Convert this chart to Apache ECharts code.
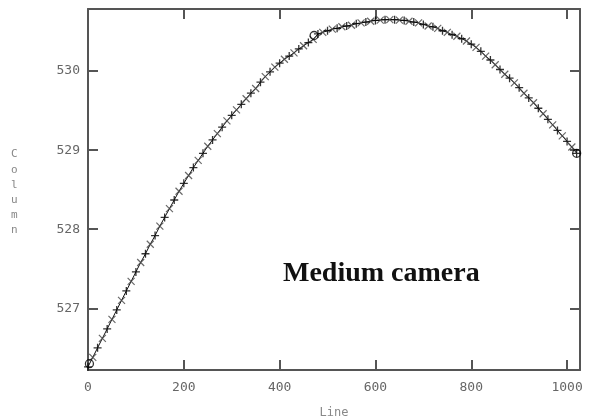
<!DOCTYPE html>
<html>
<head>
<meta charset="utf-8">
<script src="https://cdn.jsdelivr.net/npm/echarts@6/dist/echarts.min.js"></script>
<style>
  html, body { margin: 0; padding: 0; background: #fff; }
  #chart { width: 590px; height: 418px; }
</style>
</head>
<body>
<div id="chart"></div>
<script>
// Detector line positions (x) and measured column centroid (y)
const lineNumbers = [
  0, 10, 20, 30, 40, 50, 60, 70, 80, 90,
  100, 110, 120, 130, 140, 150, 160, 170, 180, 190,
  200, 210, 220, 230, 240, 250, 260, 270, 280, 290,
  300, 310, 320, 330, 340, 350, 360, 370, 380, 390,
  400, 410, 420, 430, 440, 450, 460, 470, 480, 490,
  500, 510, 520, 530, 540, 550, 560, 570, 580, 590,
  600, 610, 620, 630, 640, 650, 660, 670, 680, 690,
  700, 710, 720, 730, 740, 750, 760, 770, 780, 790,
  800, 810, 820, 830, 840, 850, 860, 870, 880, 890,
  900, 910, 920, 930, 940, 950, 960, 970, 980, 990,
  1000, 1010, 1020
];
const columnValues = [
  526.26, 526.38, 526.50, 526.62, 526.74, 526.86, 526.98, 527.10, 527.22, 527.34,
  527.46, 527.58, 527.69, 527.81, 527.92, 528.04, 528.15, 528.26, 528.37, 528.48,
  528.58, 528.68, 528.78, 528.87, 528.96, 529.05, 529.13, 529.21, 529.29, 529.37,
  529.44, 529.51, 529.58, 529.65, 529.72, 529.78, 529.86, 529.93, 529.99, 530.05,
  530.10, 530.15, 530.19, 530.23, 530.28, 530.32, 530.36, 530.40, 530.47, 530.49,
  530.51, 530.53, 530.54, 530.56, 530.57, 530.58, 530.60, 530.61, 530.62, 530.63,
  530.64, 530.645, 530.65, 530.65, 530.65, 530.645, 530.64, 530.63, 530.62, 530.61,
  530.59, 530.57, 530.56, 530.54, 530.51, 530.49, 530.46, 530.44, 530.41, 530.38,
  530.34, 530.30, 530.25, 530.19, 530.14, 530.08, 530.02, 529.96, 529.91, 529.85,
  529.79, 529.72, 529.66, 529.60, 529.53, 529.46, 529.39, 529.32, 529.25, 529.18,
  529.11, 529.04, 528.96
];
// Segment boundary points (drawn as open circles)
const boundaryLines = [3, 472, 1020];
const boundaryValues = [526.30, 530.45, 528.96];

const xTicks = [0, 200, 400, 600, 800, 1000];
const yTicks = [527, 528, 529, 530];
const labelText = 'Medium camera';
const yTitle = 'Column';

const frameColor = '#555';
const tickFont = { fontFamily: 'DejaVu Sans Mono', fontSize: 13, color: '#666' };

const allPoints = lineNumbers.map((x, i) => [x, columnValues[i]]);
const plusPoints = allPoints.filter((_, i) => i % 2 === 0);
const crossPoints = allPoints.filter((_, i) => i % 2 === 1);
const circlePoints = boundaryLines.map((x, i) => [x, boundaryValues[i]]);

const plusSym = 'path://M0,4L8,4M4,0L4,8';
const crossSym = 'path://M0,0L8,8M0,8L8,0';

const chart = echarts.init(document.getElementById('chart'), null, { renderer: 'canvas' });

// Frame edges stay on the grid border (never snap to a zero crossing)
const frameLine = () => ({ show: true, onZero: false, lineStyle: { color: frameColor, width: 2 } });
const ticksFor = values => ({
  show: true, inside: true, length: 10, customValues: values,
  lineStyle: { color: frameColor, width: 2 }
});

chart.setOption({
  animation: false,
  backgroundColor: '#fff',
  grid: { left: 88, right: 10, top: 9, bottom: 48, outerBoundsMode: 'none', containLabel: false },
  xAxis: [
    {
      type: 'value', min: 0, max: 1027, position: 'bottom',
      axisLine: frameLine(), axisTick: ticksFor(xTicks), splitLine: { show: false },
      axisLabel: Object.assign({ margin: 11, customValues: xTicks, formatter: v => String(v) }, tickFont),
      name: 'Line', nameLocation: 'middle', nameGap: 37,
      nameTextStyle: { fontFamily: 'DejaVu Sans Mono', fontSize: 12, color: '#888' }
    },
    {
      type: 'value', min: 0, max: 1027, position: 'top',
      axisLine: frameLine(), axisTick: ticksFor(xTicks), splitLine: { show: false },
      axisLabel: { show: false }
    }
  ],
  yAxis: [
    {
      type: 'value', min: 526.22, max: 530.785, position: 'left',
      axisLine: frameLine(), axisTick: ticksFor(yTicks), splitLine: { show: false },
      axisLabel: Object.assign({ margin: 8, customValues: yTicks, formatter: v => String(Math.round(v)) }, tickFont)
    },
    {
      type: 'value', min: 526.22, max: 530.785, position: 'right',
      axisLine: frameLine(), axisTick: ticksFor(yTicks), splitLine: { show: false },
      axisLabel: { show: false }
    }
  ],
  series: [
    {
      type: 'line', data: allPoints, showSymbol: false,
      lineStyle: { color: '#111', width: 1 }, z: 2
    },
    {
      type: 'scatter', data: plusPoints, symbol: plusSym, symbolSize: 8,
      itemStyle: { color: 'none', borderColor: '#000', borderWidth: 1.3 }, z: 4
    },
    {
      type: 'scatter', data: crossPoints, symbol: crossSym, symbolSize: 7,
      itemStyle: { color: 'none', borderColor: '#444', borderWidth: 1.2 }, z: 3
    },
    {
      type: 'scatter', data: circlePoints, symbol: 'circle', symbolSize: 8,
      itemStyle: { color: 'none', borderColor: '#000', borderWidth: 1.3 }, z: 5
    }
  ],
  graphic: [
    {
      type: 'text', left: 283, top: 260,
      style: { text: labelText, font: 'bold 28px "Liberation Serif"', fill: '#111' }
    },
    {
      type: 'text', left: 11, top: 147,
      style: {
        text: yTitle.split('').join('\n'), font: '11px "DejaVu Sans Mono"', fill: '#888',
        lineHeight: 15.2
      }
    }
  ]
});
</script>
</body>
</html>
